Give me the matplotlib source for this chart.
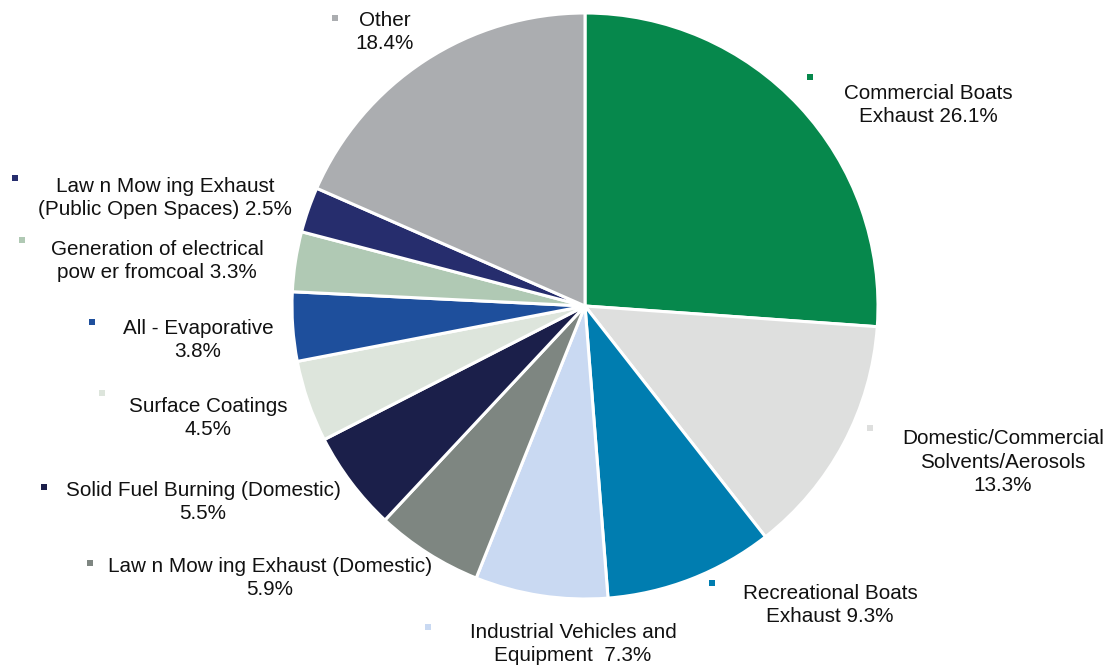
import matplotlib
matplotlib.use("Agg")
import matplotlib.pyplot as plt

plt.rcParams['font.family'] = ['Liberation Sans', 'DejaVu Sans']

# Emission sources and their shares (%)
names = [
    "Commercial Boats\nExhaust",
    "Domestic/Commercial\nSolvents/Aerosols\n",
    "Recreational Boats\nExhaust",
    "Industrial Vehicles and\nEquipment ",
    "Law n Mow ing Exhaust (Domestic)\n",
    "Solid Fuel Burning (Domestic)\n",
    "Surface Coatings\n",
    "All - Evaporative\n",
    "Generation of electrical\npow er fromcoal",
    "Law n Mow ing Exhaust\n(Public Open Spaces)",
    "Other\n",
]
shares = [26.1, 13.3, 9.3, 7.3, 5.9, 5.5, 4.5, 3.8, 3.3, 2.5, 18.4]
colors = ["#06884C", "#DEDFDE", "#007DB0", "#C9D9F2", "#7E8681", "#1B1F4A",
          "#DDE5DC", "#1E4F9C", "#B0C9B4", "#262D6D", "#ABADB0"]

W, H = 1110, 668
fig = plt.figure(figsize=(W / 100, H / 100), dpi=100)
ax = fig.add_axes([0, 0, 1, 1])

cx, cy, r = 585, H - 306, 293
ax.pie(shares, colors=colors, startangle=90, counterclock=False,
       center=(cx, cy), radius=r, frame=True,
       wedgeprops=dict(edgecolor='white', linewidth=2.2))
ax.set_xlim(0, W)
ax.set_ylim(0, H)
ax.set_aspect('equal')
ax.axis('off')

# label anchors: (text centre x, text centre y, marker x, marker y) in pixels from top-left
anchors = [
    (928, 105, 810, 77),
    (1003, 462, 870, 428),
    (830, 605, 712, 583),
    (573, 644, 428, 627),
    (270, 578, 90, 563),
    (203, 502, 44, 487),
    (208, 418, 102, 393),
    (198, 340, 92, 322),
    (157, 261, 22, 240),
    (165, 198, 15, 178),
    (385, 32, 335, 18),
]

for name, val, col, (tx, ty, mx, my) in zip(names, shares, colors, anchors):
    if name.endswith("\n"):
        label = f"{name}{val:.1f}%"
    else:
        label = f"{name} {val:.1f}%"
    ax.text(tx, H - ty, label, ha='center', va='center', fontsize=14.9,
            color='#111111', linespacing=1.3)
    ax.plot([mx], [H - my], marker='s', markersize=4.2, color=col,
            markeredgewidth=0, linestyle='none')

fig.savefig("out.png", dpi=100, facecolor='white')
